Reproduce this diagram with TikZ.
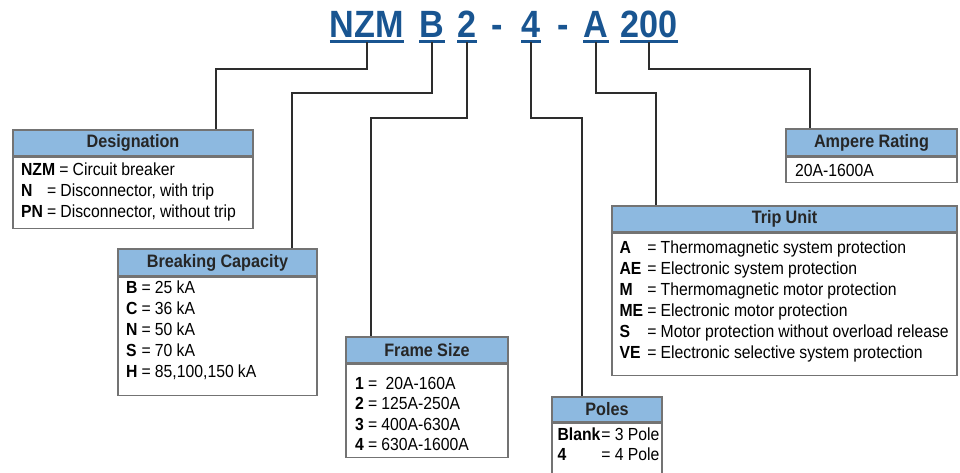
\documentclass[tikz,border=0pt]{standalone}
\usepackage{fontspec}
\setmainfont[FakeStretch=0.9, WordSpace=0.95]{Liberation Sans}
\usepackage{array}
\usetikzlibrary{positioning}
\definecolor{codeblue}{RGB}{25,85,145}
\definecolor{headblue}{RGB}{141,185,224}
\definecolor{rim}{RGB}{115,115,115}
\definecolor{wirec}{RGB}{45,45,45}

\begin{document}
\begin{tikzpicture}[x=1pt, y=-1pt,
  every node/.style={font=\fontsize{17.5}{21}\selectfont},
  codetxt/.style={anchor=base, inner sep=0pt, text=codeblue, font=\fontsize{38}{40}\selectfont\bfseries},
  uline/.style={codeblue, line width=3pt},
  wire/.style={draw=wirec, line width=1.3pt},
  headbox/.style={draw=rim, line width=1.2pt, fill=headblue, inner sep=0pt, text=black!85,
    font=\fontsize{18}{21}\selectfont\bfseries},
  bodybox/.style={draw=rim, line width=1.2pt, anchor=north, inner sep=0pt},
  rows/.style={anchor=north west, inner sep=0pt}]
  \useasboundingbox (0,0) rectangle (960,473);

  \node[codetxt] (nzm) at (367,38) {NZM};
  \node[codetxt] (brk) at (432,38) {B};
  \node[codetxt] (frm) at (467,38) {2};
  \node[codetxt] (dash1) at (497,38) {-};
  \node[codetxt] (pol) at (531,38) {4};
  \node[codetxt] (dash2) at (563,38) {-};
  \node[codetxt] (trp) at (596,38) {A};
  \node[codetxt] (amp) at (649,38) {200};
  \foreach \n in {nzm,brk,frm,pol,trp,amp}
    \draw[uline] ([yshift=-4pt]\n.base west) -- ([yshift=-4pt]\n.base east);

  \node[headbox, minimum width=240pt, minimum height=26pt] (desig) at (133,143) {Designation};
  \node[bodybox, minimum width=240pt, minimum height=71pt] (desigbody) at (desig.south) {};
  \node[rows] (desigtxt) at ([shift={(8.5pt,-4.2pt)}]desigbody.north west) {%
    \begin{tabular}{@{}>{\bfseries}l@{\ }l@{}}
    \multicolumn{2}{@{}l@{}}{\textbf{NZM} = Circuit breaker}\\
    N & = Disconnector, with trip\\
    PN & = Disconnector, without trip
    \end{tabular}};

  \node[headbox, minimum width=199pt, minimum height=27pt] (brkcap) at (217.5,262.5) {Breaking Capacity};
  \node[bodybox, minimum width=199pt, minimum height=118pt] (brkbody) at (brkcap.south) {};
  \node[rows] (brktxt) at ([shift={(8.5pt,-2.2pt)}]brkbody.north west) {%
    \begin{tabular}{@{}>{\bfseries}l@{\ }l@{}}
    B & = 25 kA\\
    C & = 36 kA\\
    N & = 50 kA\\
    S & = 70 kA\\
    H & = 85,100,150 kA
    \end{tabular}};

  \node[headbox, minimum width=162pt, minimum height=26pt] (frame) at (427,350) {Frame Size};
  \node[bodybox, minimum width=162pt, minimum height=93pt] (framebody) at (frame.south) {};
  \node[rows] (frametxt) at ([shift={(9.5pt,-10.8pt)}]framebody.north west) {%
    \begin{tabular}{@{}>{\bfseries}l@{\ }l@{}}
    1 & = \ 20A-160A\\[-0.5pt]
    2 & = 125A-250A\\[-0.5pt]
    3 & = 400A-630A\\[-0.5pt]
    4 & = 630A-1600A
    \end{tabular}};

  \node[headbox, minimum width=110pt, minimum height=25pt] (poles) at (607,409.5) {Poles};
  \node[bodybox, minimum width=110pt, minimum height=58pt] (polesbody) at (poles.south) {};
  \node[rows] (polestxt) at ([shift={(6pt,-3.2pt)}]polesbody.north west) {%
    \begin{tabular}{@{}>{\bfseries}l@{\kern1pt}l@{}}
    Blank & = 3 Pole\\[-1pt]
    4 & = 4 Pole
    \end{tabular}};

  \node[headbox, minimum width=345pt, minimum height=26pt] (trip) at (784.5,219) {Trip Unit};
  \node[bodybox, minimum width=345pt, minimum height=142pt] (tripbody) at (trip.south) {};
  \node[rows] (triptxt) at ([shift={(8pt,-5.8pt)}]tripbody.north west) {%
    \begin{tabular}{@{}>{\bfseries}l@{\ }l@{}}
    A & = Thermomagnetic system protection\\
    AE & = Electronic system protection\\
    M & = Thermomagnetic motor protection\\
    ME & = Electronic motor protection\\
    S & = Motor protection without overload release\\
    VE & = Electronic selective system protection
    \end{tabular}};

  \node[headbox, minimum width=171pt, minimum height=27pt] (ampr) at (871.5,142.5) {Ampere Rating};
  \node[bodybox, minimum width=171pt, minimum height=25pt] (amprbody) at (ampr.south) {};
  \node[rows] (amprtxt) at ([shift={(9.5pt,-4.8pt)}]amprbody.north west) {%
    \begin{tabular}{@{}l@{}}20A-1600A\end{tabular}};

  \draw[wire] ([yshift=-4pt]nzm.base) -- ++(0,27) -| ([xshift=83pt]desig.north);
  \draw[wire] ([yshift=-4pt]brk.base) -- ++(0,51) -| ([xshift=74.5pt]brkcap.north);
  \draw[wire] ([yshift=-4pt]frm.base) -- ++(0,76) -| ([xshift=-56pt]frame.north);
  \draw[wire] ([yshift=-4pt]pol.base) -- ++(0,76) -| ([xshift=-25pt]poles.north);
  \draw[wire] ([yshift=-4pt]trp.base) -- ++(0,51) -| ([xshift=-128.5pt]trip.north);
  \draw[wire] ([yshift=-4pt]amp.base) -- ++(0,27) -| ([xshift=-61.5pt]ampr.north);
\end{tikzpicture}
\end{document}
